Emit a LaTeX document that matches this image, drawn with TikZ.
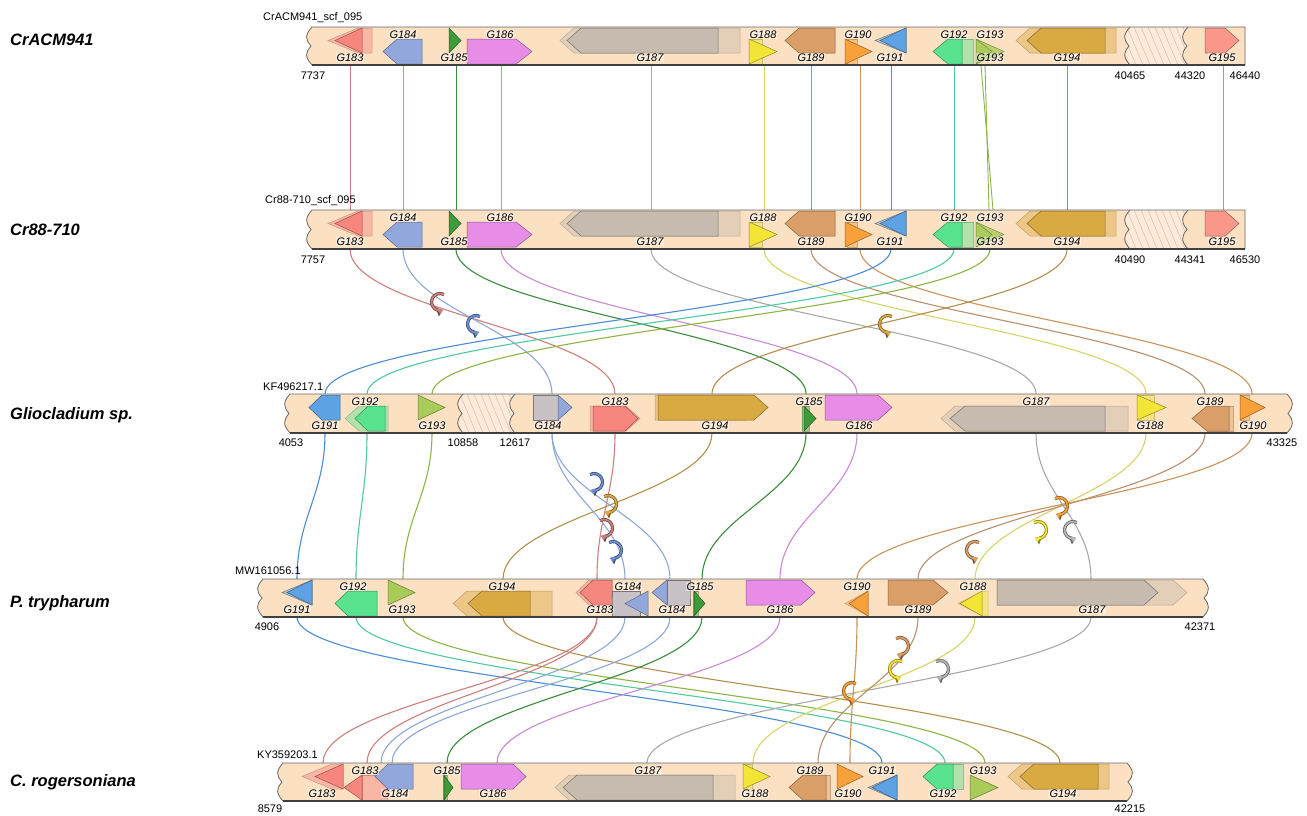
\documentclass[tikz,border=0pt]{standalone}
\usepackage{fontspec}
\setmainfont{Liberation Sans}
\usetikzlibrary{arrows.meta}
\definecolor{bar}{HTML}{FCE0C2}
\definecolor{hatchc}{HTML}{FCEBDA}
\definecolor{hatchl}{HTML}{D9BFA3}
\definecolor{c183}{HTML}{F7877E}
\definecolor{c184}{HTML}{92A8DC}
\definecolor{c185}{HTML}{3D9B3A}
\definecolor{c186}{HTML}{E78CE7}
\definecolor{c187}{HTML}{C6BBAE}
\definecolor{c188}{HTML}{F3E535}
\definecolor{c189}{HTML}{DA9F68}
\definecolor{c190}{HTML}{F8A13B}
\definecolor{c191}{HTML}{5DA3E3}
\definecolor{c191g}{HTML}{BBC4CE}
\definecolor{c192}{HTML}{5AE38F}
\definecolor{c193}{HTML}{A9CB59}
\definecolor{c194}{HTML}{DAAA42}
\definecolor{c195}{HTML}{F9978A}
\definecolor{cgrey}{HTML}{C8C2C6}
\definecolor{k183}{HTML}{CD7F7C}
\definecolor{k184}{HTML}{8EA7D9}
\definecolor{k185}{HTML}{3C8C3C}
\definecolor{k186}{HTML}{C98AD6}
\definecolor{k187}{HTML}{A9A9A9}
\definecolor{k188}{HTML}{D6D56B}
\definecolor{k189}{HTML}{B8906E}
\definecolor{k190}{HTML}{C9935A}
\definecolor{k191}{HTML}{4C8CD3}
\definecolor{k192}{HTML}{4FC99E}
\definecolor{k193}{HTML}{8DB545}
\definecolor{k194}{HTML}{B38F4F}
\definecolor{k195}{HTML}{C98A8A}
\definecolor{kinvb}{HTML}{6F8FCF}
\definecolor{kinvg}{HTML}{B5B5B5}
\tikzset{
 glab/.style={font=\itshape\fontsize{11}{11}\selectfont, inner sep=0.6pt, fill=white, fill opacity=0.45, text opacity=1},
 numlab/.style={font=\fontsize{11}{11}\selectfont, inner sep=0pt},
 trackname/.style={font=\bfseries\itshape\fontsize{16.5}{16.5}\selectfont, anchor=west, inner sep=0pt},
 seqlab/.style={font=\fontsize{11}{11}\selectfont, anchor=west, inner sep=0pt},
 barfillc/.style={fill=bar},
 barlinec/.style={draw=black!60, line width=0.8pt},
 barbot/.style={draw=black!75, line width=1.6pt},
 hatchbg/.style={fill=hatchc},
 hatchln/.style={draw=hatchl, line width=0.5pt},
 lk/.style={line width=1.1pt},
}
\newcounter{nn}
\newcommand\settrack[2]{\def\ttop{#1}\def\tbot{#2}\pgfmathsetmacro\tmid{(#1+#2)/2}}
% gene arrow: tail, tip, row, colour, head length, opacity
\newcommand\gn[6]{%
 \pgfmathsetmacro\gya{\ttop+1+11*#3}%
 \pgfmathsetmacro\gyb{\gya+25}%
 \pgfmathsetmacro\gym{\gya+12.5}%
 \pgfmathsetmacro\gsh{#2-(#2>#1?1:-1)*min(#5,abs(#2-#1))}%
 \filldraw[fill=#4,draw=#4!60!black,fill opacity=#6,draw opacity=#6,line width=0.5pt]
  (#1,\gya) -- (\gsh,\gya) -- (#2,\gym) -- (\gsh,\gyb) -- (#1,\gyb) -- cycle;}
% gene label: x, row of gene, text
\newcommand\gl[3]{\stepcounter{nn}\ifnum#2=0 \node[glab] (g\arabic{nn}) at (#1,\tbot-7.5) {#3};\else \node[glab] (g\arabic{nn}) at (#1,\ttop+7.5) {#3};\fi}
% link points
\newcommand\lp[3]{\coordinate (#1-#2-t) at (#3,\ttop); \coordinate (#1-#2-b) at (#3,\tbot);}
\newcommand\lnk[3]{\draw[lk,#1] (#2) .. controls +(0,62) and +(0,-62) .. (#3);}
% track bar: left x, right x, right wave amplitude
\newcommand\barfill[3]{\fill[barfillc] (#1,\ttop) -- (#2,\ttop) .. controls (#2+#3,\ttop+8) and (#2+#3,\ttop+12) .. (#2+#3/7,\tmid) .. controls (#2+#3,\tbot-12) and (#2+#3,\tbot-8) .. (#2,\tbot) -- (#1,\tbot) .. controls (#1-7,\tbot-8) and (#1-7,\tbot-12) .. (#1-1,\tmid) .. controls (#1-7,\ttop+12) and (#1-7,\ttop+8) .. (#1,\ttop) -- cycle;}
\newcommand\barline[3]{\draw[barlinec] (#1,\ttop) -- (#2,\ttop) .. controls (#2+#3,\ttop+8) and (#2+#3,\ttop+12) .. (#2+#3/7,\tmid) .. controls (#2+#3,\tbot-12) and (#2+#3,\tbot-8) .. (#2,\tbot) -- (#1,\tbot) .. controls (#1-7,\tbot-8) and (#1-7,\tbot-12) .. (#1-1,\tmid) .. controls (#1-7,\ttop+12) and (#1-7,\ttop+8) .. (#1,\ttop) -- cycle;
 \draw[barbot] (#1,\tbot) -- (#2,\tbot);}
\newcommand\hatch[2]{%
 \begin{scope}
 \clip (#1,\ttop) -- (#2,\ttop) .. controls (#2-7,\ttop+8) and (#2-7,\ttop+12) .. (#2-1,\tmid) .. controls (#2-7,\tbot-12) and (#2-7,\tbot-8) .. (#2,\tbot) -- (#1,\tbot) .. controls (#1-7,\tbot-8) and (#1-7,\tbot-12) .. (#1-1,\tmid) .. controls (#1-7,\ttop+12) and (#1-7,\ttop+8) .. (#1,\ttop) -- cycle;
 \fill[hatchbg] (#1-10,\ttop) rectangle (#2+10,\tbot);
 \foreach \hk in {-24,-17,...,80} {\draw[hatchln] (#1+\hk,\ttop) -- (#1+\hk+16,\tbot);}
 \end{scope}
 \draw[barlinec] (#1,\ttop) .. controls (#1-7,\ttop+8) and (#1-7,\ttop+12) .. (#1-1,\tmid) .. controls (#1-7,\tbot-12) and (#1-7,\tbot-8) .. (#1,\tbot);
 \draw[barlinec] (#2,\ttop) .. controls (#2-7,\ttop+8) and (#2-7,\ttop+12) .. (#2-1,\tmid) .. controls (#2-7,\tbot-12) and (#2-7,\tbot-8) .. (#2,\tbot);}
% inversion symbol: x, y, colour, mirror
\newcommand\inv[4]{%
 \begin{scope}[shift={(#1,#2)},xscale=#4]
 \draw[line width=3.2pt,draw=#3!55!black,-{Triangle[length=6pt,width=9pt]}] (3.99,-7.5) arc[start angle=-62,end angle=-290,radius=8.5];
 \draw[line width=1.7pt,draw=#3,-{Triangle[length=4.2pt,width=6pt]}] (3.99,-7.5) arc[start angle=-62,end angle=-290,radius=8.5];
 \end{scope}}
\newcommand\genesAB{%
 \gn{372}{328}{0}{c183}{30}{0.45}\gn{362}{335}{0}{c183}{27}{1}
 \gn{422}{383}{1}{c184}{14}{1}
 \gn{449}{461}{0}{c185}{12}{1}
 \gn{467}{532}{1}{c186}{16}{1}
 \gn{740}{560}{0}{c187}{14}{0.45}\gn{718}{567}{0}{c187}{14}{1}
 \gn{749}{762}{1}{c188}{0}{0.45}\gn{749}{777}{1}{c188}{28}{1}
 \gn{835}{785}{0}{c189}{14}{1}
 \gn{847}{857}{1}{c190}{0}{0.45}\gn{845}{872}{1}{c190}{27}{1}
 \gn{906}{875}{0}{c191g}{31}{1}\gn{906}{880}{0}{c191}{26}{1}
 \gn{973}{950}{1}{c192}{0}{0.45}\gn{962}{933}{1}{c192}{15}{1}
 \gn{976}{1004}{1}{c193}{28}{0.8}\gn{976}{992}{1}{c193}{16}{0.8}
 \gn{1116}{1016}{0}{c194}{14}{0.45}\gn{1105}{1027}{0}{c194}{14}{1}
 \gn{1205}{1239}{0}{c195}{14}{1}
 \gl{350}{0}{G183}\gl{403}{1}{G184}\gl{454}{0}{G185}\gl{500}{1}{G186}
 \gl{650}{0}{G187}\gl{763}{1}{G188}\gl{811}{0}{G189}\gl{858}{1}{G190}
 \gl{890}{0}{G191}\gl{954}{1}{G192}\gl{990}{1}{G193}\gl{990}{0}{G193}
 \gl{1067}{0}{G194}\gl{1222}{0}{G195}}
\begin{document}
\begin{tikzpicture}[x=1pt,y=-1pt]
\fill[white] (0,0) rectangle (1307,815);
\useasboundingbox (0,0) rectangle (1307,815);
% ---------- link points ----------
\settrack{27}{65}
\lp{t1}{183}{350}\lp{t1}{184}{403}\lp{t1}{185}{456}\lp{t1}{186}{501}\lp{t1}{187}{651}
\lp{t1}{188}{764}\lp{t1}{189}{811}\lp{t1}{190}{860}\lp{t1}{191}{891}\lp{t1}{192}{954}
\lp{t1}{193a}{981}\lp{t1}{193b}{985}\lp{t1}{194}{1067}\lp{t1}{195}{1223}
\settrack{210}{249}
\lp{t2}{183}{350}\lp{t2}{184}{403}\lp{t2}{185}{456}\lp{t2}{186}{501}\lp{t2}{187}{651}
\lp{t2}{188}{764}\lp{t2}{189}{811}\lp{t2}{190}{860}\lp{t2}{191}{891}\lp{t2}{192}{954}
\lp{t2}{193a}{993}\lp{t2}{193b}{989}\lp{t2}{193}{990}\lp{t2}{194}{1067}\lp{t2}{195}{1223}
\settrack{394}{433}
\lp{t3}{191}{325}\lp{t3}{192}{367}\lp{t3}{193}{432}\lp{t3}{184}{552}\lp{t3}{183}{615}
\lp{t3}{194}{712}\lp{t3}{185}{806}\lp{t3}{186}{857}\lp{t3}{187}{1036}\lp{t3}{188}{1146}
\lp{t3}{189}{1205}\lp{t3}{190}{1252}
\settrack{579}{617}
\lp{t4}{191}{297}\lp{t4}{192}{356}\lp{t4}{193}{403}\lp{t4}{194}{503}\lp{t4}{183}{597}
\lp{t4}{184a}{625}\lp{t4}{184b}{670}\lp{t4}{185}{702}\lp{t4}{186}{780}\lp{t4}{190}{857}
\lp{t4}{189}{918}\lp{t4}{188}{975}\lp{t4}{187}{1091}
\settrack{763}{801}
\lp{t5}{183a}{323}\lp{t5}{183b}{367}\lp{t5}{184a}{381}\lp{t5}{184b}{392}\lp{t5}{185}{447}
\lp{t5}{186}{497}\lp{t5}{187}{647}\lp{t5}{188}{753}\lp{t5}{189}{818}\lp{t5}{190}{850}
\lp{t5}{191}{882}\lp{t5}{192}{945}\lp{t5}{193}{985}\lp{t5}{194}{1060}
% ---------- links 1-2 ----------
\foreach \g in {183,184,185,186,187,188,189,190,191,192,194,195}
  {\draw[lk,line width=0.9pt,k\g] (t1-\g-b) -- (t2-\g-t);}
\draw[lk,line width=0.9pt,k193] (t1-193a-b) -- (t2-193a-t);
\draw[lk,line width=0.9pt,k193] (t1-193b-b) -- (t2-193b-t);
% ---------- links 2-3 ----------
\foreach \g in {183,184,185,186,187,188,189,190,191,192,193,194}
  {\lnk{k\g}{t2-\g-b}{t3-\g-t}}
% ---------- links 3-4 ----------
\foreach \g in {191,192,193,183,194,185,186,187,188,189,190}
  {\lnk{k\g}{t3-\g-b}{t4-\g-t}}
\lnk{k184}{t3-184-b}{t4-184a-t}
\lnk{k184}{t3-184-b}{t4-184b-t}
% ---------- links 4-5 ----------
\foreach \g in {191,192,193,194,185,186,187,188,189,190}
  {\lnk{k\g}{t4-\g-b}{t5-\g-t}}
\lnk{k183}{t4-183-b}{t5-183a-t}
\lnk{k183}{t4-183-b}{t5-183b-t}
\lnk{k184}{t4-184a-b}{t5-184a-t}
\lnk{k184}{t4-184b-b}{t5-184b-t}
% ---------- track 1 ----------
\settrack{27}{65}
\barfill{312}{1245}{0}
\hatch{1130}{1188}
\genesAB
\barline{312}{1245}{0}
\node[trackname] (name1) at (10,40) {CrACM941};
\node[seqlab] (seq1) at (263,18) {CrACM941\_scf\_095};
\node[numlab] (a1) at (313,76) {7737};
\node[numlab] (a2) at (1130,76) {40465};
\node[numlab] (a3) at (1190,76) {44320};
\node[numlab] (a4) at (1245,76) {46440};
% ---------- track 2 ----------
\settrack{210}{249}
\barfill{312}{1245}{0}
\hatch{1130}{1188}
\genesAB
\barline{312}{1245}{0}
\node[trackname] (name2) at (10,230) {Cr88-710};
\node[seqlab] (seq2) at (265,201) {Cr88-710\_scf\_095};
\node[numlab] (b1) at (313,260) {7757};
\node[numlab] (b2) at (1130,260) {40490};
\node[numlab] (b3) at (1190,260) {44341};
\node[numlab] (b4) at (1245,260) {46530};
% ---------- track 3 ----------
\settrack{394}{433}
\barfill{290}{1287}{7}
\hatch{463}{515}
\gn{340}{309}{0}{c191}{13}{1}
\gn{388}{345}{1}{c192}{14}{0.45}\gn{385}{355}{1}{c192}{13}{1}
\gn{418}{445}{0}{c193}{27}{1}
\gn{533}{558}{0}{cgrey}{0}{1}\gn{558}{572}{0}{c184}{14}{1}
\gn{590}{640}{1}{c183}{14}{0.45}\gn{593}{638}{1}{c183}{13}{1}
\gn{655}{760}{0}{c194}{14}{0.45}\gn{658}{768}{0}{c194}{14}{1}
\gn{802}{809}{1}{c185}{0}{0.4}\gn{804}{816}{1}{c185}{12}{1}
\gn{825}{892}{0}{c186}{14}{1}
\gn{1128}{941}{1}{c187}{14}{0.45}\gn{1105}{950}{1}{c187}{15}{1}
\gn{1137}{1154}{0}{c188}{0}{0.45}\gn{1137}{1166}{0}{c188}{29}{1}
\gn{1233}{1207}{1}{c189}{0}{0.45}\gn{1229}{1192}{1}{c189}{15}{1}
\gn{1240}{1249}{0}{c190}{0}{0.45}\gn{1240}{1265}{0}{c190}{25}{1}
\gl{325}{0}{G191}\gl{365}{1}{G192}\gl{432}{0}{G193}\gl{548}{0}{G184}
\gl{615}{1}{G183}\gl{715}{0}{G194}\gl{809}{1}{G185}\gl{859}{0}{G186}
\gl{1036}{1}{G187}\gl{1150}{0}{G188}\gl{1210}{1}{G189}\gl{1253}{0}{G190}
\barline{290}{1287}{7}
\node[trackname] (name3) at (10,415) {Gliocladium sp.};
\node[seqlab] (seq3) at (263,387) {KF496217.1};
\node[numlab] (c1) at (291,443) {4053};
\node[numlab] (c2) at (463,443) {10858};
\node[numlab] (c3) at (515,443) {12617};
\node[numlab] (c4) at (1282,443) {43325};
% ---------- track 4 ----------
\settrack{579}{617}
\barfill{263}{1203}{7}
\gn{312}{282}{0}{c191g}{30}{1}\gn{312}{287}{0}{c191}{25}{1}
\gn{377}{335}{1}{c192}{13}{1}
\gn{388}{415}{0}{c193}{27}{1}
\gn{552}{453}{1}{c194}{14}{0.45}\gn{530}{468}{1}{c194}{14}{1}
\gn{612}{576}{0}{c183}{13}{0.45}\gn{612}{580}{0}{c183}{13}{1}
\gn{640}{612}{1}{cgrey}{0}{1}\gn{648}{625}{1}{c184}{23}{1}
\gn{667}{652}{0}{c184}{15}{1}\gn{667}{690}{0}{cgrey}{0}{1}
\gn{693}{698}{1}{c185}{0}{0.4}\gn{694}{705}{1}{c185}{11}{1}
\gn{746}{815}{0}{c186}{14}{1}
\gn{868}{845}{1}{c190}{23}{0.45}\gn{868}{849}{1}{c190}{19}{1}
\gn{888}{948}{0}{c189}{15}{1}
\gn{988}{958}{1}{c188}{25}{0.45}\gn{982}{960}{1}{c188}{22}{1}
\gn{997}{1187}{0}{c187}{14}{0.45}\gn{997}{1158}{0}{c187}{14}{1}
\gl{297}{0}{G191}\gl{353}{1}{G192}\gl{402}{0}{G193}\gl{502}{1}{G194}
\gl{600}{0}{G183}\gl{628}{1}{G184}\gl{672}{0}{G184}\gl{700}{1}{G185}
\gl{780}{0}{G186}\gl{857}{1}{G190}\gl{918}{0}{G189}\gl{973}{1}{G188}
\gl{1092}{0}{G187}
\barline{263}{1203}{7}
\node[trackname] (name4) at (10,603) {P. trypharum};
\node[seqlab] (seq4) at (235,571) {MW161056.1};
\node[numlab] (d1) at (267,627) {4906};
\node[numlab] (d2) at (1200,627) {42371};
% ---------- track 5 ----------
\settrack{763}{801}
\barfill{283}{1127}{7}
\gn{343}{302}{0}{c183}{30}{0.45}\gn{343}{315}{0}{c183}{28}{1}
\gn{362}{387}{1}{c183}{0}{0.45}\gn{362}{344}{1}{c183}{18}{1}
\gn{413}{375}{0}{c184}{13}{1}
\gn{443}{447}{1}{c185}{0}{0.4}\gn{444}{453}{1}{c185}{9}{1}
\gn{461}{526}{0}{c186}{13}{1}
\gn{735}{555}{1}{c187}{14}{0.45}\gn{713}{563}{1}{c187}{14}{1}
\gn{743}{752}{0}{c188}{0}{0.45}\gn{743}{770}{0}{c188}{27}{1}
\gn{830}{815}{1}{c189}{0}{0.45}\gn{826}{789}{1}{c189}{14}{1}
\gn{837}{863}{0}{c190}{26}{1}
\gn{897}{868}{1}{c191g}{29}{1}\gn{897}{872}{1}{c191}{25}{1}
\gn{963}{950}{0}{c192}{0}{0.45}\gn{953}{923}{0}{c192}{14}{1}
\gn{970}{998}{1}{c193}{28}{1}
\gn{1109}{1008}{0}{c194}{14}{0.45}\gn{1098}{1020}{0}{c194}{14}{1}
\gl{322}{0}{G183}\gl{365}{1}{G183}\gl{395}{0}{G184}\gl{447}{1}{G185}
\gl{493}{0}{G186}\gl{648}{1}{G187}\gl{755}{0}{G188}\gl{810}{1}{G189}
\gl{848}{0}{G190}\gl{882}{1}{G191}\gl{943}{0}{G192}\gl{983}{1}{G193}
\gl{1063}{0}{G194}
\barline{283}{1127}{7}
\node[trackname] (name5) at (10,782) {C. rogersoniana};
\node[seqlab] (seq5) at (257,755) {KY359203.1};
\node[numlab] (e1) at (270,809) {8579};
\node[numlab] (e2) at (1130,809) {42215};
% ---------- inversion symbols ----------
\inv{440}{302}{k183}{1}
\inv{476}{324}{kinvb}{1}
\inv{888}{324}{c194}{1}
\inv{594}{482}{kinvb}{-1}
\inv{608}{504}{c194}{-1}
\inv{604}{528}{k183}{-1}
\inv{613}{550}{kinvb}{-1}
\inv{1059}{506}{c190}{-1}
\inv{1038}{530}{c188}{-1}
\inv{1073}{530}{kinvg}{1}
\inv{975}{550}{c189}{1}
\inv{900}{646}{c189}{-1}
\inv{898}{669}{c188}{1}
\inv{940}{669}{kinvg}{-1}
\inv{852}{691}{c190}{1}
\end{tikzpicture}
\end{document}
